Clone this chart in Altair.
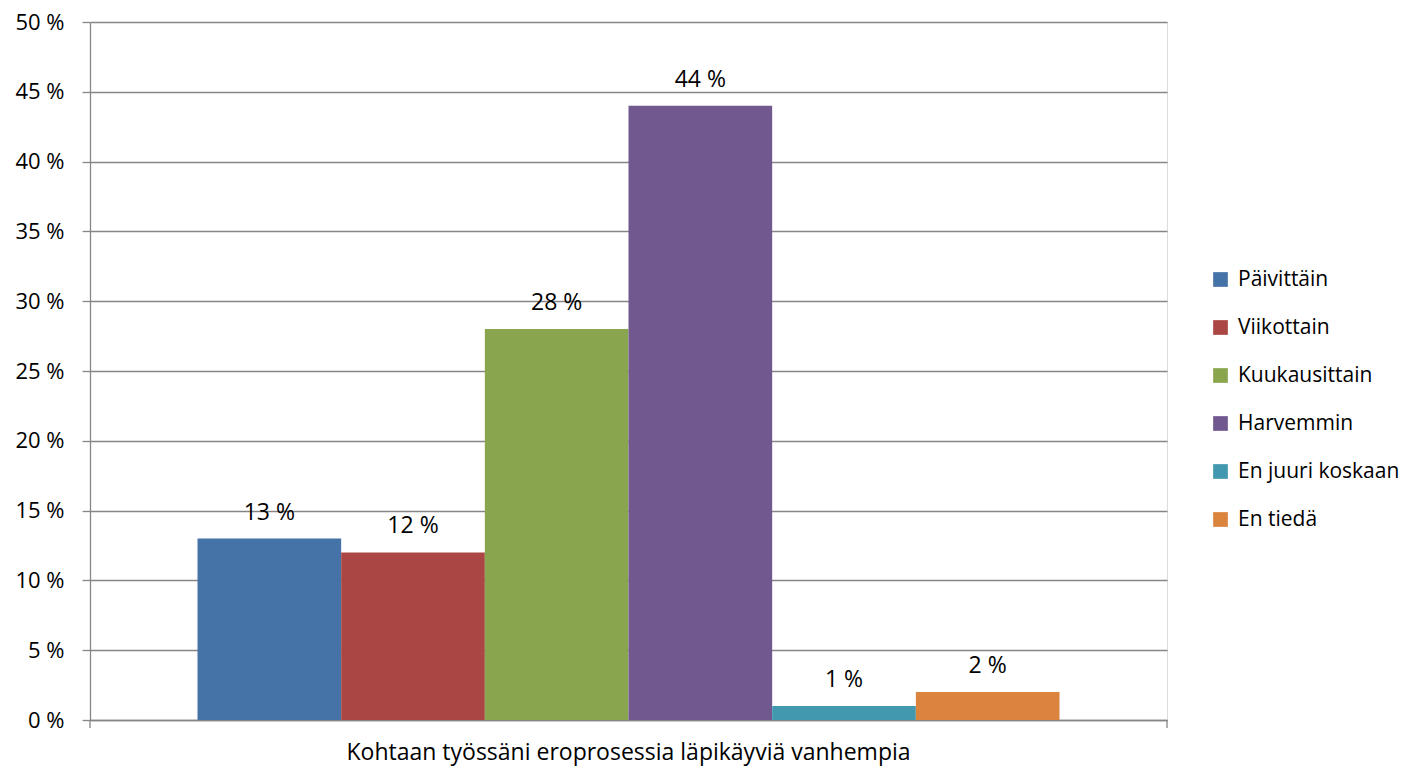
import altair as alt
import pandas as pd

group = ["Kohtaan työssäni eroprosessia läpikäyviä vanhempia"]
series = ["Päivittäin", "Viikottain", "Kuukausittain", "Harvemmin", "En juuri koskaan", "En tiedä"]
values = [13, 12, 28, 44, 1, 2]
colors = ["#4572A7", "#AA4643", "#89A54E", "#71588F", "#4198AF", "#DB843D"]

df = pd.DataFrame({
    "group": group * len(series),
    "series": series,
    "value": values,
})
df["label"] = df["value"].astype(str) + " %"

FONT = "Open Sans"
GRID = "#868686"
H = 698

x = alt.X("group:N", title=None,
          scale=alt.Scale(paddingInner=0, paddingOuter=0.1247),
          axis=alt.Axis(labels=True, ticks=False, labelAngle=0, labelFontSize=23,
                        labelPadding=39, labelColor="#000000", labelFont=FONT, labelLimit=0,
                        labelBaseline="alphabetic",
                        domainColor=GRID, domainWidth=1.3))
xo = alt.XOffset("series:N", sort=series, scale=alt.Scale(paddingInner=0, paddingOuter=0))
y = alt.Y("value:Q", title=None,
          scale=alt.Scale(domain=[0, 50], nice=False),
          axis=alt.Axis(values=list(range(0, 51, 5)), labelExpr="datum.value + ' %'",
                        labelFontSize=22, labelFont=FONT, labelColor="#000000",
                        labelPadding=18, tickSize=8, tickColor=GRID, tickWidth=1.3,
                        grid=True, gridColor=GRID, gridWidth=1.3,
                        domainColor=GRID, domainWidth=1.3))

color = alt.Color("series:N", sort=series,
                  scale=alt.Scale(domain=series, range=colors),
                  legend=alt.Legend(title=None, orient="none", legendX=1120, legendY=247,
                                    symbolType="square", symbolSize=216, symbolStrokeWidth=0,
                                    labelFontSize=21, labelFont=FONT, labelColor="#000000",
                                    labelLimit=0, rowPadding=26, labelOffset=7))

bars = alt.Chart(df).mark_bar(size=143.67).encode(x=x, xOffset=xo, y=y, color=color)
text = alt.Chart(df).mark_text(dy=-19, fontSize=23, font=FONT, color="#000000",
                               baseline="alphabetic").encode(
    x=x, xOffset=xo, y=y, text="label:N")

ext = alt.Chart(pd.DataFrame({"a": [0]})).mark_rule(color=GRID, strokeWidth=1.3).encode(
    x=alt.value(0), y=alt.value(H), y2=alt.value(H + 8))
ext2 = alt.Chart(pd.DataFrame({"a": [0]})).mark_rule(color=GRID, strokeWidth=1.3).encode(
    x=alt.value(1077), y=alt.value(H), y2=alt.value(H + 8))

chart = alt.layer(bars, text, ext, ext2).properties(
    width=1077, height=H,
    autosize=alt.AutoSizeParams(type="none"),
    padding={"left": 82, "top": 14, "right": 235, "bottom": 48},
).configure_view(stroke=None).configure(background="white")

chart.save("out.html", embed_options={"renderer": "svg", "actions": False})
